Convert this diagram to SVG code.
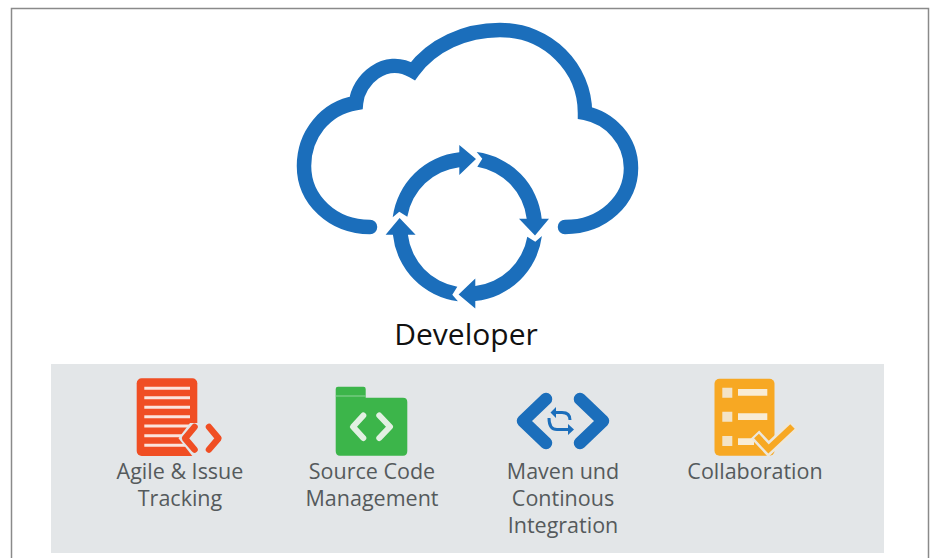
<svg xmlns="http://www.w3.org/2000/svg" width="934" height="558" viewBox="0 0 934 558">
<style>
.t{font-family:"Open Sans","DejaVu Sans",sans-serif;font-size:21.5px;fill:#555a5c;text-anchor:middle}
.cv{fill:none;stroke-linecap:round;stroke-linejoin:round}
</style>
<defs>
<path id="seg" fill="#1b6ebb" d="M392.7 217.3L399.3 211.7L407.3 216.7A60 60 0 0 1 459.3 167.300L459.3 175L476 159L459.3 145L459.3 152.300A75 75 0 0 0 392.7 217.3Z"/>
</defs>
<rect width="934" height="558" fill="#fff"/>
<path d="M11.5 558V8.5H928.5V558" fill="none" stroke="#8a8a8a" stroke-width="1.5"/>
<rect x="51" y="364" width="833" height="189" fill="#e3e6e8"/>
<g id="cloud">
<path d="M370 227C333 227 304 200 304 166C304 135 325 108 356 103C358 80 385 55 413 71C432 45 465 30 500 30C548 30 585 68 585 113C610 118 631 140 631 168C631 200 603 227 565 227" fill="none" stroke="#1b6ebb" stroke-width="14.500" stroke-linecap="round"/>
<use href="#seg"/>
<use href="#seg" transform="rotate(90 467.3 226.7)"/>
<use href="#seg" transform="rotate(180 467.3 226.7)"/>
<use href="#seg" transform="rotate(270 467.3 226.7)"/>
<text x="466" y="345" font-family="'Open Sans','DejaVu Sans',sans-serif" font-size="30" fill="#111" text-anchor="middle">Developer</text>
</g>
<g id="agile">
<rect x="136.700" y="378.300" width="60.600" height="77.700" rx="5" fill="#f04e23"/>
<path d="M144.300 388.300H190M144.300 397.700H190M144.300 407.300H190M144.300 416.700H190M144.300 426H190M144.300 435.700H190M144.300 445.300H190" stroke="#fbe4dc" stroke-width="3"/>
<path d="M190 423L178.500 438.300L192.700 456.500L200 456.500V423Z" fill="#e3e6e8"/>
<path class="cv" d="M194.500 427L185 438.300L194.500 449.500M209 427L218.500 438.300L209 449.500" stroke="#f04e23" stroke-width="6.500"/>
<text class="t" x="180" y="479">Agile &amp; Issue</text>
<text class="t" x="180" y="506">Tracking</text>
</g>
<g id="scm">
<path d="M338 386.700H363.500Q365.700 386.700 365.700 389V397.700H403Q407.300 397.700 407.300 402V451Q407.300 455.700 403 455.700H340Q335.700 455.700 335.700 451V389Q335.700 386.700 338 386.700Z" fill="#3cb54a"/>
<path d="M335.700 396H365.700" stroke="#8fd49a" stroke-width="1"/>
<path class="cv" d="M363.300 415.500L353 426.700L363.300 438M379.300 415.500L390 426.700L379.300 438" stroke="#e2f0e2" stroke-width="6"/>
<text class="t" x="372" y="479">Source Code</text>
<text class="t" x="372" y="506">Management</text>
</g>
<g id="maven">
<path class="cv" d="M546 399L523 421L546 443M580 399L603 421L580 443" stroke="#1b6ebb" stroke-width="12.500"/>
<path d="M570 420Q570 412.500 562 412.500H554M549 418Q549 429.500 557 429.500H569" fill="none" stroke="#1b6ebb" stroke-width="3"/>
<path d="M550.500 412.500L556 407V418ZM574 429.500L568 424V435Z" fill="#1b6ebb"/>
<text class="t" x="563" y="479">Maven und</text>
<text class="t" x="563" y="506">Continous</text>
<text class="t" x="563" y="533">Integration</text>
</g>
<g id="collab">
<rect x="714.500" y="378.700" width="60" height="77" rx="5" fill="#f7a823"/>
<path d="M722.300 387.700h10v10h-10zM722.300 411.700h10v10h-10zM722.300 436h10v10h-10z" fill="#f3e3c6"/>
<path d="M738 389h29.300v6.700h-29.300zM738 413.300h29.300v6.700h-29.300zM738 438.300h16v6.700h-16z" fill="#f8ecd6"/>
<path d="M755 434.500L768.500 449L793.500 425.500" fill="none" stroke="#ece7dc" stroke-width="11.500"/>
<path d="M756.500 436L768.500 449L792.500 426.500" fill="none" stroke="#f7a823" stroke-width="6.500"/>
<text class="t" x="755" y="479">Collaboration</text>
</g>
</svg>
